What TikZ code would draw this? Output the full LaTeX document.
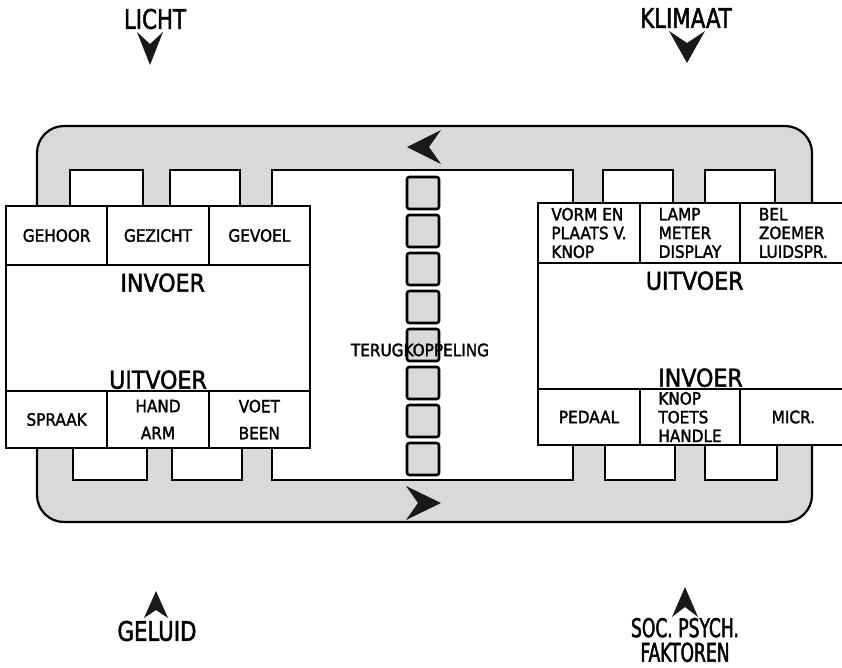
\documentclass[tikz,border=0pt]{standalone}
\usepackage{fontspec}
\setmainfont[FakeBold=1.8]{DejaVuSansCondensed.ttf}
\newfontfamily\outerfont[FakeStretch=0.88,FakeBold=1.8]{DejaVuSansCondensed.ttf}
\newfontfamily\narrowfont[FakeStretch=0.74,FakeBold=1.8]{DejaVuSansCondensed.ttf}
\usetikzlibrary{positioning}
\definecolor{band}{gray}{0.85}
\tikzset{
  outline/.style={draw=black,line width=1.9pt},
  cell/.style={rectangle,draw=black,line width=1.9pt,fill=white,inner sep=1pt,outer sep=0pt,
    minimum width=3.04cm,minimum height=1.77cm,font=\fontsize{14.5}{16}\selectfont,align=center},
  midbox/.style={rectangle,draw=black,line width=1.9pt,fill=white,outer sep=0pt,
    minimum height=3.78cm},
  biglbl/.style={font=\fontsize{21}{22}\selectfont,inner sep=0pt},
  outerlbl/.style={font=\outerfont\fontsize{23}{20}\selectfont,align=center,inner sep=0pt},
  square/.style={rectangle,rounded corners=2pt,draw=black,line width=2.2pt,fill=band,
    minimum width=0.96cm,minimum height=0.96cm,outer sep=0pt},
  tipfill/.style={fill=black!90}
}

\begin{document}
\begin{tikzpicture}[x=0.03cm,y=-0.03cm]
  \useasboundingbox (0,0) rectangle (842,667);

  % grey loop
  \draw[outline,fill=band,rounded corners=0.81cm] (37,126) rectangle (812,522);
  \foreach \xa/\xb in {70/143,170/240,603/673,705/775}
    \draw[outline,fill=white] (\xa,170) rectangle (\xb,215);
  \foreach \xa/\xb in {73/147,172/242,605/675,705/777}
    \draw[outline,fill=white] (\xa,435) rectangle (\xb,480);
  \draw[outline,fill=white] (272,170) rectangle (573,480);

  % terugkoppeling
  \foreach \i in {0,...,7}
    \node[square] (sq\i) at (423,{193+38*\i}) {};
  \node[font=\fontsize{14.5}{16}\selectfont,inner sep=0pt] (terug) at (420,350) {TERUGKOPPELING};

  % mens
  \node[cell,anchor=north west] (gehoor) at (6,206) {GEHOOR};
  \node[cell,right=0pt of gehoor] (gezicht) {GEZICHT};
  \node[cell,right=0pt of gezicht] (gevoel) {GEVOEL};
  \node[midbox,minimum width=9.12cm,anchor=north west] (mens) at (gehoor.south west) {};
  \node[cell,minimum height=1.71cm,anchor=north west] (spraak) at (mens.south west) {SPRAAK};
  \node[cell,minimum height=1.71cm,right=0pt of spraak] (hand) {HAND\\[7pt]ARM};
  \node[cell,minimum height=1.71cm,right=0pt of hand] (voet) {VOET\\[7pt]BEEN};
  \node[biglbl,anchor=north] (invoerl) at ([xshift=4pt,yshift=-7pt]mens.north) {INVOER};
  \node[biglbl,anchor=base] (uitvoerl) at ([yshift=2pt]mens.south) {UITVOER};

  % machine
  \node[cell,align=left,minimum width=3.06cm,minimum height=1.8cm,anchor=north west] (vorm) at (538,203)
    {VORM EN\\PLAATS V.\\KNOP};
  \node[cell,align=left,minimum width=3.0cm,minimum height=1.8cm,right=0pt of vorm] (lamp)
    {LAMP\\METER\\DISPLAY};
  \node[cell,align=left,minimum width=3.2cm,minimum height=1.8cm,right=0pt of lamp] (bel)
    {BEL\\ZOEMER\\LUIDSPR.};
  \node[midbox,minimum width=9.26cm,anchor=north west] (machine) at (vorm.south west) {};
  \node[cell,minimum width=3.06cm,minimum height=1.68cm,anchor=north west] (pedaal) at (machine.south west) {PEDAAL};
  \node[cell,align=left,minimum width=3.0cm,minimum height=1.68cm,right=0pt of pedaal] (knop)
    {KNOP\\TOETS\\HANDLE};
  \node[cell,minimum width=3.2cm,minimum height=1.68cm,right=0pt of knop] (micr) {MICR.};
  \node[biglbl,anchor=north] (uitvoerr) at ([xshift=2pt,yshift=-7pt]machine.north) {UITVOER};
  \node[biglbl,anchor=base] (invoerr) at ([xshift=7pt,yshift=2pt]machine.south) {INVOER};

  % richting
  \fill[tipfill] (407,147) -- (441,130) -- (429,147) -- (441,164) -- cycle;
  \fill[tipfill] (441,503) -- (406,486) -- (418,503) -- (406,520) -- cycle;

  % omgeving
  \node[outerlbl] (licht) at (155,19) {LICHT};
  \node[outerlbl] (klimaat) at (686,18) {KLIMAAT};
  \node[outerlbl] (geluid) at (157,631) {GELUID};
  \node[outerlbl,font=\narrowfont\fontsize{22}{21}\selectfont] (soc) at (685,640) {SOC. PSYCH.\\FAKTOREN};
  \fill[tipfill] (137,32) -- (150,44) -- (163,32) -- (150,65) -- cycle;
  \fill[tipfill] (669,31) -- (687,43) -- (705,31) -- (687,63) -- cycle;
  \fill[tipfill] (156,591) -- (168,618) -- (156,610) -- (144,618) -- cycle;
  \fill[tipfill] (685,587) -- (698,617) -- (685,607) -- (672,617) -- cycle;
\end{tikzpicture}
\end{document}
